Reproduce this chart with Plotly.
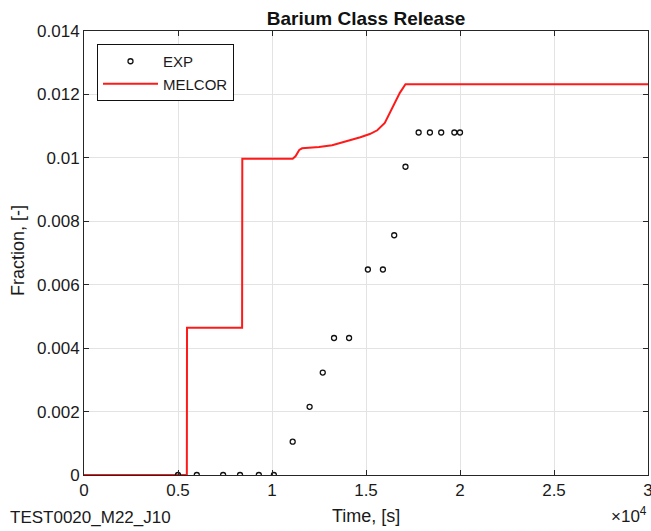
import plotly.graph_objects as go

# MELCOR calculation (time in s, release fraction)
melcor_time = [0, 5470, 5480, 8410, 8420, 11100, 11250, 11450, 11600, 12500,
               13200, 14000, 14700, 15200, 15600, 16000, 16400, 16800, 17100, 30000]
melcor_frac = [0, 0, 0.00464, 0.00464, 0.00997, 0.00997, 0.01005, 0.01025, 0.0103, 0.01034,
               0.0104, 0.01053, 0.01065, 0.01075, 0.01087, 0.0111, 0.01155, 0.01205, 0.01232, 0.01232]

# Experimental data
exp_time = [5000, 6000, 7400, 8300, 9300, 10100, 11100, 12000, 12700, 13300,
            14100, 15100, 15900, 16500, 17100, 17800, 18400, 19000, 19700, 20000]
exp_frac = [0, 0, 0, 0, 0, 0, 0.00105, 0.00215, 0.00323, 0.00432,
            0.00432, 0.00648, 0.00648, 0.00756, 0.00972, 0.0108, 0.0108, 0.0108, 0.0108, 0.0108]

x_tickvals = [0, 5000, 10000, 15000, 20000, 25000, 30000]
x_ticktext = ["0", "0.5", "1", "1.5", "2", "2.5", "3"]
y_tickvals = [0, 0.002, 0.004, 0.006, 0.008, 0.010, 0.012, 0.014]
y_ticktext = ["0", "0.002", "0.004", "0.006", "0.008", "0.01", "0.012", "0.014"]

FONT = "Liberation Sans, Arial, Helvetica, sans-serif"
DARK = "#262626"
GRID = "#e3e3e3"
TXT = "#1a1a1a"

# plot area in pixels (for placing free text)
plot_l, plot_r, plot_t, plot_b = 84, 648, 31, 475
pw, ph = plot_r - plot_l, plot_b - plot_t

def px_x(px):
    return (px - plot_l) / pw

def px_y(py):
    return (plot_b - py) / ph

fig = go.Figure()
fig.add_trace(go.Scatter(
    x=melcor_time, y=melcor_frac, mode="lines", name="MELCOR",
    line=dict(color="#ff1a1a", width=2),
))
fig.add_trace(go.Scatter(
    x=exp_time, y=exp_frac, mode="markers", name="EXP",
    marker=dict(symbol="circle-open", size=5, color="#111111",
                line=dict(width=1.3, color="#111111")),
))

axis_common = dict(
    showline=True, linecolor=DARK, linewidth=1, mirror="ticks",
    ticks="inside", ticklen=5, tickwidth=1, tickcolor=DARK,
    showgrid=True, gridcolor=GRID, gridwidth=1, zeroline=False,
    tickfont=dict(family=FONT, size=17, color=TXT),
    ticklabeloverflow="allow", automargin=False,
)

fig.update_layout(
    width=651, height=531,
    margin=dict(l=plot_l, r=651 - plot_r, t=plot_t, b=531 - plot_b, autoexpand=False),
    paper_bgcolor="white", plot_bgcolor="white",
    font=dict(family=FONT, color=TXT),
    title=dict(text="<b>Barium Class Release</b>", x=0.5, xref="paper", xanchor="center",
               y=1 - 18 / 531, yref="container", yanchor="middle",
               font=dict(family=FONT, size=19, color="#111111")),
    xaxis=dict(range=[0, 30000], tickvals=x_tickvals, ticktext=x_ticktext, **axis_common),
    yaxis=dict(range=[0, 0.014], tickvals=y_tickvals, ticktext=y_ticktext, **axis_common),
    legend=dict(x=px_x(97), y=px_y(44), xanchor="left", yanchor="top", traceorder="reversed",
                bordercolor="#111111", borderwidth=1, bgcolor="white",
                font=dict(family=FONT, size=15, color=TXT),
                itemwidth=55),
    showlegend=True,
    annotations=[
        dict(text="Time, [s]", x=px_x(366), y=px_y(516), xref="paper", yref="paper",
             xanchor="center", yanchor="middle", showarrow=False,
             font=dict(family=FONT, size=18, color=TXT)),
        dict(text="Fraction, [-]", x=px_x(18), y=px_y(251), xref="paper", yref="paper",
             textangle=-90, showarrow=False, xanchor="center", yanchor="middle",
             font=dict(family=FONT, size=18, color=TXT)),
        dict(text="TEST0020_M22_J10", x=px_x(8), y=px_y(517), xref="paper", yref="paper",
             xanchor="left", yanchor="middle", showarrow=False,
             font=dict(family=FONT, size=17, color=TXT)),
        dict(text="×10<sup>4</sup>", x=px_x(649), y=px_y(515), xref="paper", yref="paper",
             xanchor="right", yanchor="middle", showarrow=False,
             font=dict(family=FONT, size=17, color=TXT)),
    ],
)

fig.write_html("out.html")
